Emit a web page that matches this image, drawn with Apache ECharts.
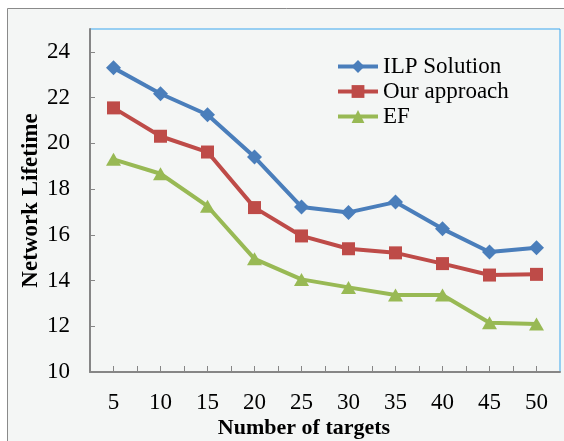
<!DOCTYPE html>
<html>
<head>
<meta charset="utf-8">
<script src="https://cdn.jsdelivr.net/npm/echarts@6/dist/echarts.min.js"></script>
<style>
html,body{margin:0;padding:0;background:#ffffff;}
#c{width:564px;height:441px;}
</style>
</head>
<body>
<div id="c"></div>
<script>
const targets = [5, 10, 15, 20, 25, 30, 35, 40, 45, 50];
const ilpSolution = [23.3, 22.17, 21.25, 19.4, 17.22, 16.98, 17.43, 16.26, 15.25, 15.43];
const ourApproach = [21.55, 20.31, 19.62, 17.19, 15.95, 15.39, 15.21, 14.74, 14.24, 14.27];
const efValues = [19.3, 18.67, 17.25, 14.95, 14.05, 13.7, 13.37, 13.37, 12.15, 12.1];
const yTickLabels = [10, 12, 14, 16, 18, 20, 22, 24];
const xTickMarks = [5, 7.5, 10, 12.5, 15, 17.5, 20, 22.5, 25, 27.5, 30, 32.5, 35, 37.5, 40, 42.5, 45, 47.5, 50];

const font = '"Liberation Serif", "Times New Roman", serif';
const pair = arr => targets.map((x, i) => [x, arr[i]]);

const chart = echarts.init(document.getElementById('c'), null, {renderer: 'canvas'});
chart.setOption({
  animation: false,
  backgroundColor: '#ffffff',
  graphic: [{
    type: 'rect', z: -10, silent: true,
    shape: {x: 7.5, y: 8.5, width: 600, height: 500},
    style: {fill: '#f4f6f5', stroke: '#8a8a8a', lineWidth: 1}
  }],
  grid: {
    left: 90, right: 4, top: 29, bottom: 69,
    outerBoundsMode: 'none', containLabel: false,
    show: true, borderColor: '#3aa7ef', borderWidth: 1, backgroundColor: 'transparent'
  },
  legend: {
    left: 336, top: 54, orient: 'vertical', padding: 0,
    itemWidth: 40, itemHeight: 16, itemGap: 0,
    lineStyle: {width: 4},
    textStyle: {fontFamily: font, fontSize: 23, color: '#000', lineHeight: 25},
    data: ['ILP Solution', 'Our approach', 'EF']
  },
  xAxis: {
    type: 'value', min: 2.5, max: 52.5, interval: 2.5,
    name: 'Number of targets', nameLocation: 'middle', nameGap: 45, nameMoveOverlap: false,
    nameTextStyle: {fontFamily: font, fontSize: 22, fontWeight: 'bold', color: '#000', padding: [0, 42, 0, 0]},
    axisLine: {lineStyle: {color: '#868686', width: 2}},
    axisTick: {inside: true, length: 6, lineStyle: {color: '#868686', width: 1}, customValues: xTickMarks},
    axisLabel: {fontFamily: font, fontSize: 23, color: '#000', margin: 19, customValues: targets},
    splitLine: {show: false}
  },
  yAxis: {
    type: 'value', min: 10, max: 25, interval: 2,
    name: 'Network Lifetime', nameLocation: 'middle', nameGap: 47, nameRotate: 90, nameMoveOverlap: false,
    nameTextStyle: {fontFamily: font, fontSize: 23, fontWeight: 'bold', color: '#000'},
    axisLine: {show: true, lineStyle: {color: '#868686', width: 2}},
    axisTick: {show: true, inside: true, length: 5, lineStyle: {color: '#868686', width: 1}, customValues: yTickLabels},
    axisLabel: {fontFamily: font, fontSize: 23, color: '#000', margin: 20, customValues: yTickLabels},
    splitLine: {show: false}
  },
  series: [
    {name: 'ILP Solution', type: 'line', data: pair(ilpSolution), symbol: 'diamond', symbolSize: 15,
     lineStyle: {width: 4, color: '#4a7ebb'}, itemStyle: {color: '#4a7ebb'}},
    {name: 'Our approach', type: 'line', data: pair(ourApproach), symbol: 'rect', symbolSize: 13,
     lineStyle: {width: 4, color: '#be4b48'}, itemStyle: {color: '#be4b48'}},
    {name: 'EF', type: 'line', data: pair(efValues), symbol: 'triangle', symbolSize: [15, 13],
     lineStyle: {width: 4, color: '#98b954'}, itemStyle: {color: '#98b954'}}
  ]
});
</script>
</body>
</html>
